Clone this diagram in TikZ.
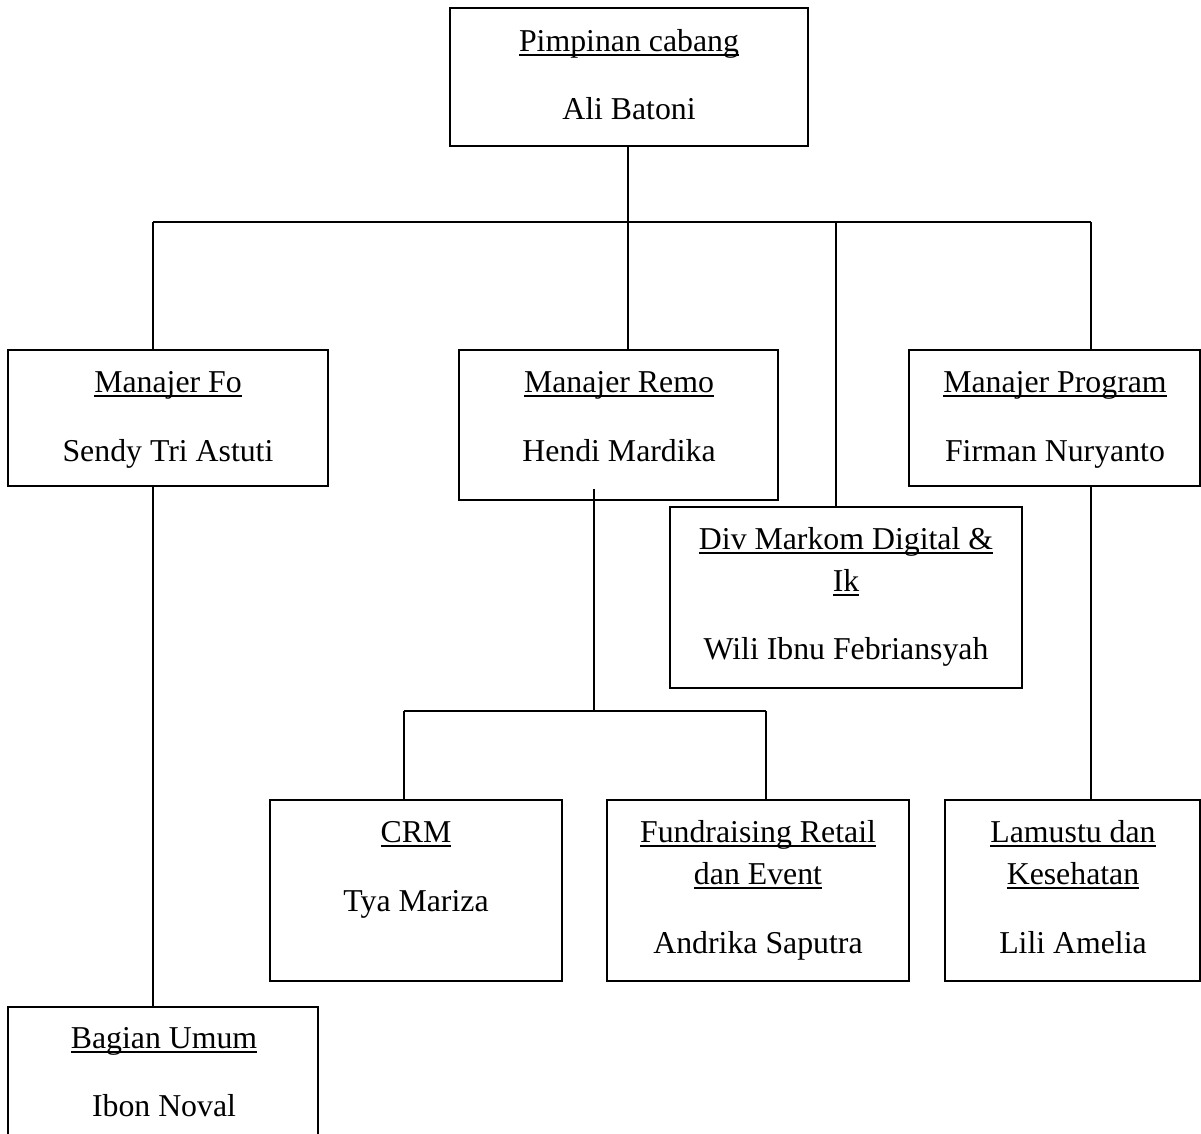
\documentclass[tikz,border=0pt]{standalone}
\usepackage{fontspec}
\setmainfont{Liberation Serif}
\newcommand\ultext[1]{\setbox0\hbox{#1}\rlap{\rule[-4.5pt]{\wd0}{2pt}}\box0}
\tikzset{
  box/.style={draw=black, line width=1.6pt, fill=white, inner sep=0pt},
  txt/.style={anchor=base, inner sep=0pt, font=\fontsize{31.8}{40}\selectfont},
  conn/.style={draw=black, line width=1.6pt}
}
\begin{document}
\begin{tikzpicture}[x=1pt,y=-1pt]
\useasboundingbox (0,0) rectangle (1201,1133);
\fill[white] (0,0) rectangle (1201,1133);
% connectors (behind boxes)
\coordinate (hl) at (153,222);
\coordinate (hr) at (1091,222);
\coordinate (hm) at (628,222);
\coordinate (hd) at (836,222);
\coordinate (remoout) at (594,489);
\coordinate (sub) at (594,711);
\coordinate (subl) at (404,711);
\coordinate (subr) at (766,711);
% boxes
\path[box] (450,8) rectangle (808,146) node[pos=0.5, inner sep=0pt] (top) {};
\path[box] (8,350) rectangle (328,486) node[pos=0.5, inner sep=0pt] (fo) {};
\path[box] (459,350) rectangle (778,500) node[pos=0.5, inner sep=0pt] (remo) {};
\path[box] (909,350) rectangle (1200,486) node[pos=0.5, inner sep=0pt] (prog) {};
\path[box] (670,507) rectangle (1022,688) node[pos=0.5, inner sep=0pt] (markom) {};
\path[box] (270,800) rectangle (562,981) node[pos=0.5, inner sep=0pt] (crm) {};
\path[box] (607,800) rectangle (909,981) node[pos=0.5, inner sep=0pt] (fund) {};
\path[box] (945,800) rectangle (1200,981) node[pos=0.5, inner sep=0pt] (lam) {};
\path[box] (8,1007) rectangle (318,1145) node[pos=0.5, inner sep=0pt] (umum) {};
% named box edges for connectors
\coordinate (topS) at (628,146);
\coordinate (foN) at (153,350);
\coordinate (foS) at (153,486);
\coordinate (remoN) at (628,350);
\coordinate (progN) at (1091,350);
\coordinate (progS) at (1091,486);
\coordinate (markomN) at (836,507);
\coordinate (crmN) at (404,800);
\coordinate (fundN) at (766,800);
\coordinate (lamN) at (1091,800);
\coordinate (umumN) at (153,1007);
\draw[conn] (hl) -- (hr);
\draw[conn] (topS) -- (remoN);
\draw[conn] (hl) -- (foN);
\draw[conn] (hd) -- (markomN);
\draw[conn] (hr) -- (progN);
\draw[conn] (foS) -- (umumN);
\draw[conn] (progS) -- (lamN);
\draw[conn] (remoout) -- (sub);
\draw[conn] (subl) -- (subr);
\draw[conn] (subl) -- (crmN);
\draw[conn] (subr) -- (fundN);
% texts
\node[txt] (t1) at (629,51) {\ultext{Pimpinan cabang}};
\node[txt] (n1) at (629,119) {Ali Batoni};
\node[txt] (t2) at (168,392) {\ultext{Manajer Fo}};
\node[txt] (n2) at (168,461) {Sendy Tri Astuti};
\node[txt] (t3) at (619,392) {\ultext{Manajer Remo}};
\node[txt] (n3) at (619,461) {Hendi Mardika};
\node[txt] (t4) at (1055,392) {\ultext{Manajer Program}};
\node[txt] (n4) at (1055,461) {Firman Nuryanto};
\node[txt] (t5a) at (846,549) {\ultext{Div Markom Digital \&}};
\node[txt] (t5b) at (846,591) {\ultext{Ik}};
\node[txt] (n5) at (846,659) {Wili Ibnu Febriansyah};
\node[txt] (t6) at (416,842) {\ultext{CRM}};
\node[txt] (n6) at (416,911) {Tya Mariza};
\node[txt] (t7a) at (758,842) {\ultext{Fundraising Retail}};
\node[txt] (t7b) at (758,884) {\ultext{dan Event}};
\node[txt] (n7) at (758,953) {Andrika Saputra};
\node[txt] (t8a) at (1073,842) {\ultext{Lamustu dan}};
\node[txt] (t8b) at (1073,884) {\ultext{Kesehatan}};
\node[txt] (n8) at (1073,953) {Lili Amelia};
\node[txt] (t9) at (164,1048) {\ultext{Bagian Umum}};
\node[txt] (n9) at (164,1116) {Ibon Noval};
\end{tikzpicture}
\end{document}
